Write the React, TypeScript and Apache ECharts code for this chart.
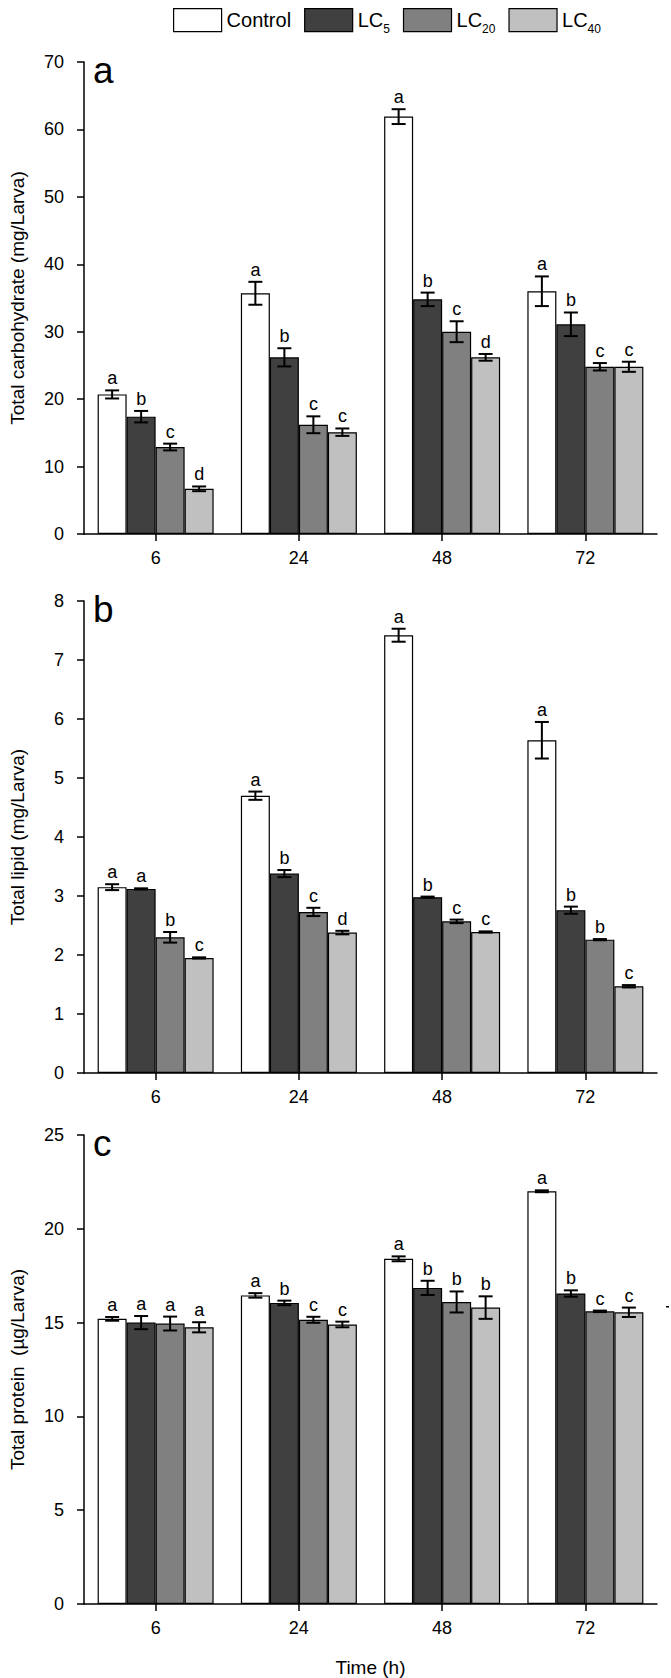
import { useEffect, useRef } from "react";
import * as echarts from "echarts";

const categories = ["6", "24", "48", "72"];
const seriesNames = ["Control", "LC5", "LC20", "LC40"];
const barColors = ["#ffffff", "#404040", "#808080", "#c0c0c0"];

// Panel a: total carbohydrate (mg/Larva)
const carbControl = [20.7, 35.7, 61.9, 36.0];
const carbLC5 = [17.4, 26.2, 34.8, 31.1];
const carbLC20 = [12.9, 16.2, 30.0, 24.8];
const carbLC40 = [6.7, 15.1, 26.2, 24.8];
const carbControlErr = [0.6, 1.7, 1.1, 2.2];
const carbLC5Err = [0.85, 1.35, 1.0, 1.75];
const carbLC20Err = [0.5, 1.25, 1.55, 0.55];
const carbLC40Err = [0.35, 0.55, 0.5, 0.75];
const carbLettersControl = ["a", "a", "a", "a"];
const carbLettersLC5 = ["b", "b", "b", "b"];
const carbLettersLC20 = ["c", "c", "c", "c"];
const carbLettersLC40 = ["d", "c", "d", "c"];

// Panel b: total lipid (mg/Larva)
const lipControl = [3.15, 4.7, 7.42, 5.64];
const lipLC5 = [3.12, 3.38, 2.98, 2.76];
const lipLC20 = [2.3, 2.73, 2.57, 2.26];
const lipLC40 = [1.95, 2.38, 2.39, 1.47];
const lipControlErr = [0.05, 0.07, 0.11, 0.31];
const lipLC5Err = [0.01, 0.06, 0.01, 0.06];
const lipLC20Err = [0.09, 0.07, 0.03, 0.01];
const lipLC40Err = [0.01, 0.03, 0.01, 0.02];
const lipLettersControl = ["a", "a", "a", "a"];
const lipLettersLC5 = ["a", "b", "b", "b"];
const lipLettersLC20 = ["b", "c", "c", "b"];
const lipLettersLC40 = ["c", "d", "c", "c"];

// Panel c: total protein (µg/Larva)
const protControl = [15.2, 16.45, 18.4, 22.0];
const protLC5 = [15.0, 16.05, 16.85, 16.55];
const protLC20 = [14.95, 15.15, 16.1, 15.6];
const protLC40 = [14.75, 14.9, 15.8, 15.55];
const protControlErr = [0.1, 0.12, 0.13, 0.05];
const protLC5Err = [0.35, 0.12, 0.38, 0.17];
const protLC20Err = [0.37, 0.16, 0.56, 0.04];
const protLC40Err = [0.27, 0.15, 0.6, 0.25];
const protLettersControl = ["a", "a", "a", "a"];
const protLettersLC5 = ["a", "b", "b", "b"];
const protLettersLC20 = ["a", "c", "b", "c"];
const protLettersLC40 = ["a", "c", "b", "c"];

const yNames = ["Total carbohydrate (mg/Larva)", "Total lipid (mg/Larva)", "Total protein  (µg/Larva)"];
const yMax = [70, 8, 25];
const yInterval = [10, 1, 5];
const panelTags = ["a", "b", "c"];
const xName = "Time (h)";

const FONT = '"Liberation Sans", Arial, Helvetica, sans-serif';
const BAR_W = 29;

const panelMeans = [
  [carbControl, carbLC5, carbLC20, carbLC40],
  [lipControl, lipLC5, lipLC20, lipLC40],
  [protControl, protLC5, protLC20, protLC40],
];
const panelErrs = [
  [carbControlErr, carbLC5Err, carbLC20Err, carbLC40Err],
  [lipControlErr, lipLC5Err, lipLC20Err, lipLC40Err],
  [protControlErr, protLC5Err, protLC20Err, protLC40Err],
];
const panelLetters = [
  [carbLettersControl, carbLettersLC5, carbLettersLC20, carbLettersLC40],
  [lipLettersControl, lipLettersLC5, lipLettersLC20, lipLettersLC40],
  [protLettersControl, protLettersLC5, protLettersLC20, protLettersLC40],
];

const gridTops = [62, 601, 1135];
const gridHeights = [472, 472, 475];

function buildOption() {
  const grids: any[] = [];
  const xAxes: any[] = [];
  const yAxes: any[] = [];
  const series: any[] = [];
  const graphics: any[] = [];

  for (let p = 0; p < 3; p++) {
    grids.push({ left: 74, right: 14, top: gridTops[p], height: gridHeights[p], containLabel: false });
    xAxes.push({
      type: "category",
      gridIndex: p,
      data: categories,
      axisLine: { show: true, lineStyle: { color: "#000", width: 1.5 } },
      axisTick: { show: true, alignWithLabel: true, length: 7, lineStyle: { color: "#000", width: 1.5 } },
      axisLabel: { color: "#000", fontSize: 18, fontFamily: FONT, margin: 15 },
      splitLine: { show: false },
      name: p === 2 ? xName : "",
      nameLocation: "middle",
      nameGap: 54,
      nameTextStyle: { color: "#000", fontSize: 19, fontFamily: FONT },
    });
    yAxes.push({
      type: "value",
      gridIndex: p,
      min: 0,
      max: yMax[p],
      interval: yInterval[p],
      axisLine: { show: true, lineStyle: { color: "#000", width: 1.5 } },
      axisTick: { show: true, length: 7, lineStyle: { color: "#000", width: 1.5 } },
      axisLabel: { color: "#000", fontSize: 18, fontFamily: FONT, margin: 20 },
      splitLine: { show: false },
      name: yNames[p],
      nameLocation: "middle",
      nameGap: 57,
      nameTextStyle: { color: "#000", fontSize: 19, fontFamily: FONT },
    });

    for (let s = 0; s < 4; s++) {
      series.push({
        type: "bar",
        name: seriesNames[s],
        xAxisIndex: p,
        yAxisIndex: p,
        data: panelMeans[p][s],
        barWidth: BAR_W,
        barGap: "0%",
        itemStyle: { color: barColors[s], borderColor: "#000", borderWidth: 1.2 },
        emphasis: { disabled: true },
        z: 2,
      });
    }

    const errData: number[][] = [];
    for (let s = 0; s < 4; s++) {
      for (let c = 0; c < 4; c++) {
        errData.push([c, s, panelMeans[p][s][c], panelErrs[p][s][c]]);
      }
    }
    const letters = panelLetters[p];
    series.push({
      type: "custom",
      name: "err" + p,
      xAxisIndex: p,
      yAxisIndex: p,
      data: errData,
      encode: { x: 0, y: 2 },
      clip: false,
      z: 10,
      silent: true,
      renderItem: (params: any, api: any) => {
        const ci = api.value(0) as number;
        const si = api.value(1) as number;
        const m = api.value(2) as number;
        const e = api.value(3) as number;
        const c = api.coord([ci, m]);
        const x = c[0] + (si - 1.5) * BAR_W;
        const yt = api.coord([ci, m + e])[1];
        const yb = api.coord([ci, m - e])[1];
        const ls = { stroke: "#000", lineWidth: 2 };
        return {
          type: "group",
          children: [
            { type: "line", shape: { x1: x, y1: yt, x2: x, y2: yb }, style: ls },
            { type: "line", shape: { x1: x - 7, y1: yt, x2: x + 7, y2: yt }, style: ls },
            { type: "line", shape: { x1: x - 7, y1: yb, x2: x + 7, y2: yb }, style: ls },
            {
              type: "text",
              x: x,
              y: yt - 3,
              style: {
                text: letters[si][ci],
                fill: "#000",
                fontSize: 18,
                fontFamily: FONT,
                align: "center",
                verticalAlign: "bottom",
              },
            },
          ],
        };
      },
    });

    graphics.push({
      type: "text",
      x: 93,
      y: gridTops[p] + 8,
      style: {
        text: panelTags[p],
        fill: "#000",
        fontSize: 37,
        fontFamily: FONT,
        align: "left",
        verticalAlign: "middle",
      },
    });
  }

  // small stray mark at the right edge of panel c in the source figure
  graphics.push({
    type: "rect",
    shape: { x: 666, y: 1306, width: 3, height: 1.5 },
    style: { fill: "#000" },
  });

  return {
    animation: false,
    backgroundColor: "#ffffff",
    legend: {
      show: true,
      left: 168,
      top: 3,
      itemWidth: 48,
      itemHeight: 23,
      itemGap: 13,
      icon: "rect",
      selectedMode: false,
      data: seriesNames.map((n, i) => ({
        name: n,
        itemStyle: { color: barColors[i], borderColor: "#000", borderWidth: 1.2 },
      })),
      formatter: (name: string) => (name === "Control" ? "{n|Control}" : `{n|LC}{s|${name.slice(2)}}`),
      textStyle: {
        color: "#000",
        fontSize: 20,
        fontFamily: FONT,
        rich: {
          n: { fontSize: 20, fontFamily: FONT, color: "#000", lineHeight: 30, verticalAlign: "middle" },
          s: { fontSize: 12, fontFamily: FONT, color: "#000", lineHeight: 30, verticalAlign: "bottom" },
        },
      },
    },
    grid: grids,
    xAxis: xAxes,
    yAxis: yAxes,
    series,
    graphic: graphics,
  };
}

export default function App() {
  const ref = useRef<HTMLDivElement>(null);
  useEffect(() => {
    if (!ref.current) return;
    const chart = echarts.init(ref.current, undefined, { renderer: "svg" });
    chart.setOption(buildOption() as any);
    return () => chart.dispose();
  }, []);
  return (
    <div
      ref={ref}
      style={{ position: "absolute", left: 0, top: 0, width: 671, height: 1678, background: "#fff" }}
    />
  );
}
